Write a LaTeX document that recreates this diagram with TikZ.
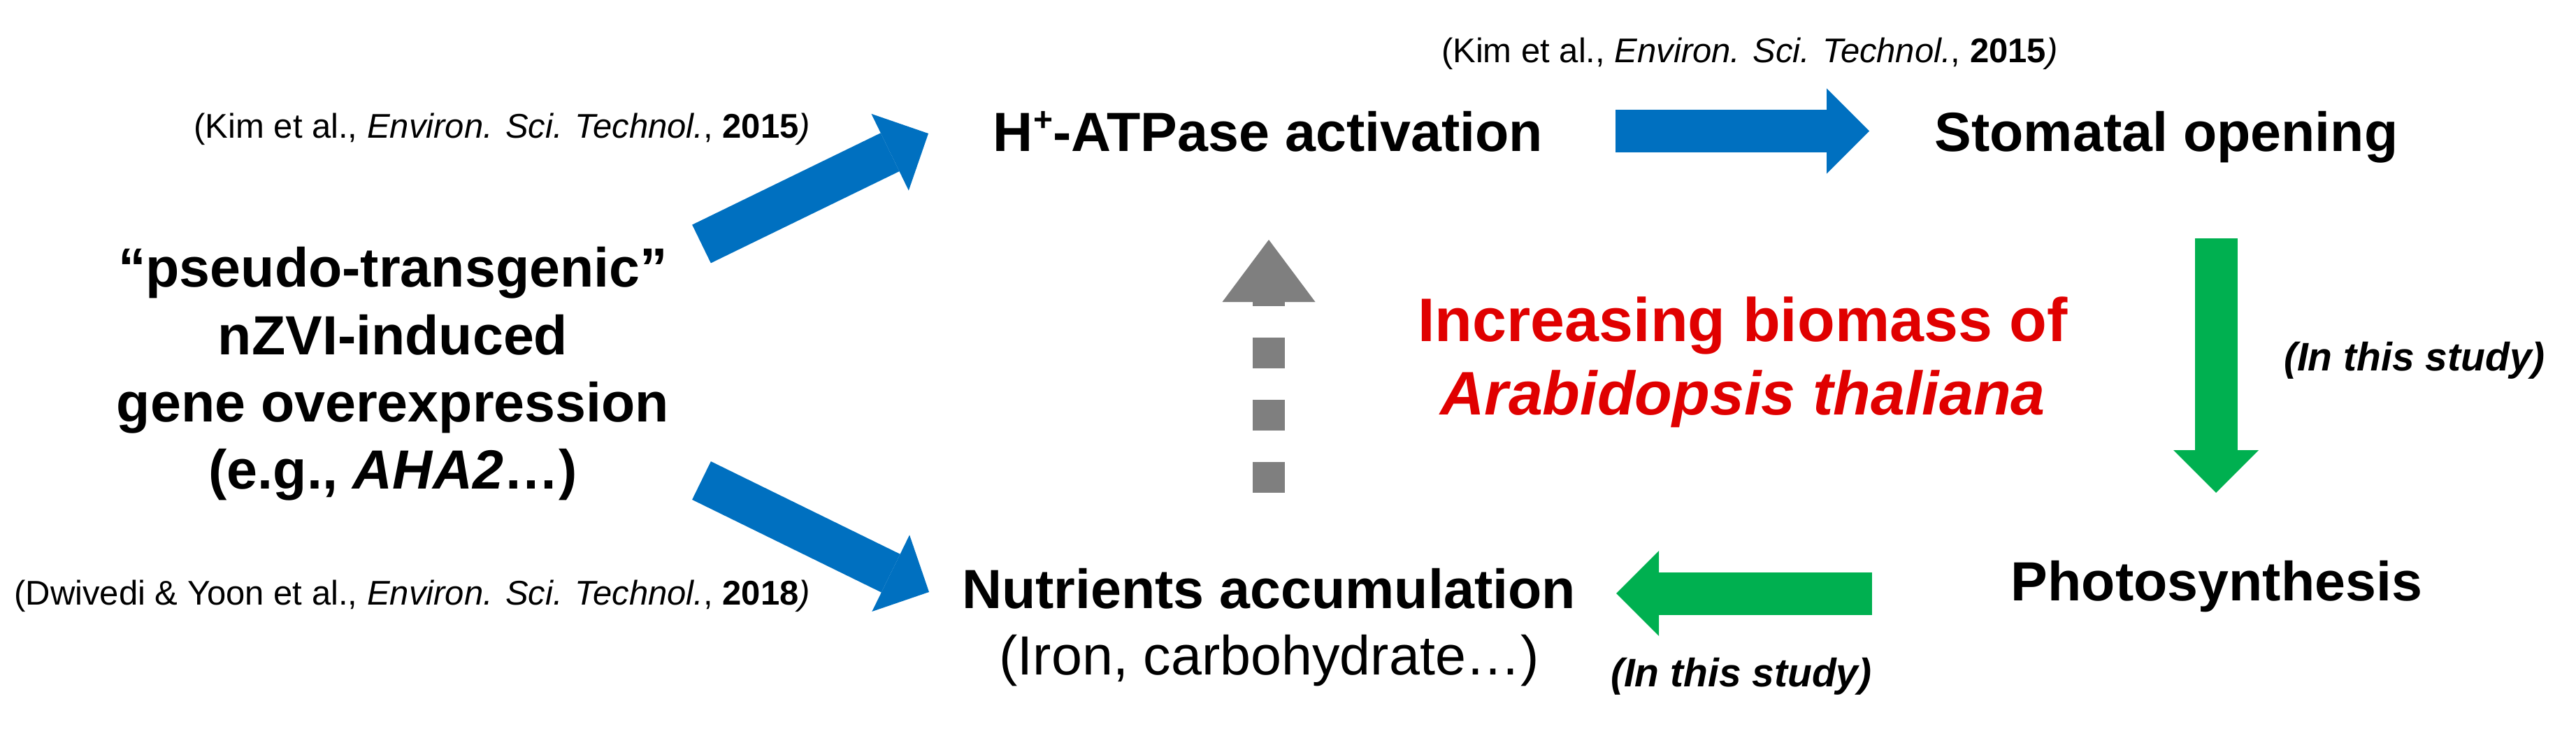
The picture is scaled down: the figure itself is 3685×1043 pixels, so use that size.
\documentclass[tikz,border=0pt]{standalone}
\usepackage{fontspec}
\setmainfont{Liberation Sans}
\usetikzlibrary{arrows.meta}
\definecolor{pblue}{HTML}{0070C0}
\definecolor{pgreen}{HTML}{00B050}
\definecolor{pgrey}{HTML}{7F7F7F}
\definecolor{pred}{HTML}{E00000}
\begin{document}
\begin{tikzpicture}[x=1pt,y=-1pt,
  txt/.style={inner sep=0pt, outer sep=0pt, anchor=base},
  big/.style={txt, font=\fontsize{79}{95}\selectfont\bfseries},
  plain/.style={txt, font=\fontsize{79}{95}\selectfont},
  cite/.style={txt, font=\fontsize{49}{59}\selectfont},
  study/.style={txt, font=\fontsize{57}{68}\selectfont\bfseries\itshape},
  redtxt/.style={txt, text=pred, font=\fontsize{88}{105}\selectfont\bfseries},
  blk/.style={line width=61pt, draw=#1, -{Triangle[length=61pt,width=122pt,line width=0pt,fill=#1]}},
  dashblk/.style={line width=46pt, draw=#1, dash pattern=on 44pt off 45pt, -{Triangle[length=89pt,width=133pt,line width=0pt,fill=#1]}}
]
\useasboundingbox (0,0) rectangle (3685,1043);

% citations
\node[cite, anchor=base east] (kim1) at (1159,197) {(Kim et al., \textit{Environ. Sci. Technol.}, \textbf{2015}\textit{)}};
\node[cite, anchor=base west] (kim2) at (2062,90) {(Kim et al., \textit{Environ. Sci. Technol.}, \textbf{2015}\textit{)}};
\node[cite, anchor=base east] (dwiv) at (1159,865) {(Dwivedi \& Yoon et al., \textit{Environ. Sci. Technol.}, \textbf{2018}\textit{)}};

% left block
\node[big] (l1) at (562,410) {“pseudo-transgenic”};
\node[big] (l2) at (562,507) {nZVI-induced};
\node[big] (l3) at (562,603) {gene overexpression};
\node[big] (l4) at (562,699) {(e.g., \textit{AHA2}…)};

% main nodes
\node[big] (hatp) at (1814,216) {H\raisebox{0.36em}{\fontsize{48}{48}\selectfont +}-ATPase activation};
\node[big] (stom) at (3099,216) {Stomatal opening};
\node[big] (nutr) at (1815,870) {Nutrients accumulation};
\node[plain] (iron) at (1816,965) {(Iron, carbohydrate…)};
\node[big] (photo) at (3171,859) {Photosynthesis};

% centre text
\node[redtxt] (red1) at (2493,488) {Increasing biomass of};
\node[redtxt] (red2) at (2493,593) {\textit{Arabidopsis thaliana}};

% study labels
\node[study, anchor=base west] (st1) at (3267,530) {(In this study)};
\node[study, anchor=base west] (st2) at (2304,982) {(In this study)};

% arrow end points
\coordinate (b1s) at (1003.5,349);  \coordinate (b1e) at (1328,191);
\coordinate (b2s) at (1003.5,687.5); \coordinate (b2e) at (1329,847);
\coordinate (b3s) at (2311,187.5);  \coordinate (b3e) at (2674,187.5);
\coordinate (g1s) at (3170,341);    \coordinate (g1e) at (3170,705);
\coordinate (g2s) at (2678,849);    \coordinate (g2e) at (2312,849);
\coordinate (grs) at (1815,705);    \coordinate (gre) at (1815,343);

\draw[blk=pblue] (b1s) -- (b1e);
\draw[blk=pblue] (b2s) -- (b2e);
\draw[blk=pblue] (b3s) -- (b3e);
\draw[blk=pgreen] (g1s) -- (g1e);
\draw[blk=pgreen] (g2s) -- (g2e);
\draw[dashblk=pgrey] (grs) -- (gre);
\end{tikzpicture}
\end{document}
